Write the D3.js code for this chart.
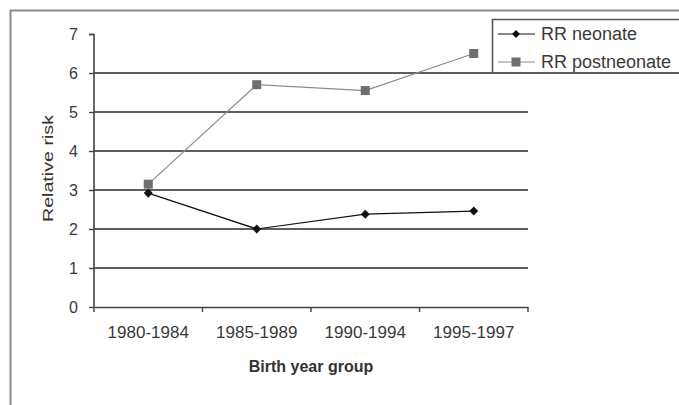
<!DOCTYPE html>
<html>
<head>
<meta charset="utf-8">
<script src="https://cdn.jsdelivr.net/npm/d3@7"></script>
<style>
  body { margin: 0; background: #fff; }
  text { font-family: "Liberation Sans", Arial, sans-serif; }
</style>
</head>
<body>
<div id="chart"></div>
<script>
// data
const categories = ["1980-1984", "1985-1989", "1990-1994", "1995-1997"];
const neonate = [2.92, 2.0, 2.38, 2.46];
const postneonate = [3.15, 5.7, 5.55, 6.5];
const yTicks = [0, 1, 2, 3, 4, 5, 6, 7];
const seriesNames = ["RR neonate", "RR postneonate"];

const width = 679, height = 405;
const margin = {top: 34, right: 151, bottom: 98, left: 94};
const plot_w = width - margin.left - margin.right,
      plot_h = height - margin.top - margin.bottom;

const svg = d3.select("#chart")
  .append("svg")
  .attr("width", width)
  .attr("height", height);

// outer frame
svg.append("path")
  .attr("d", `M10.5,${height} L10.5,10.5 L${width},10.5`)
  .attr("fill", "none")
  .attr("stroke", "#8a8a8a")
  .attr("stroke-width", 2);

const g = svg.append("g")
  .attr("transform", `translate(${margin.left},${margin.top})`);

const x = d3.scaleBand()
  .domain(categories)
  .range([0, plot_w]);

const y = d3.scaleLinear()
  .domain([0, 7])
  .range([plot_h, 0]);

// gridlines
g.selectAll(".grid")
  .data(yTicks.filter(d => d > 0 && d < 7))
  .enter().append("line")
  .attr("x1", 0).attr("x2", plot_w)
  .attr("y1", d => y(d)).attr("y2", d => y(d))
  .attr("stroke", "#5e5e5e")
  .attr("stroke-width", 1.8);

// y axis
const yAxis = g.append("g")
  .call(d3.axisLeft(y).tickValues(yTicks).tickFormat(d3.format("d")).tickSize(5).tickPadding(11));
// x axis
const xAxis = g.append("g")
  .attr("transform", `translate(0,${plot_h})`)
  .call(d3.axisBottom(x).tickSize(0).tickPadding(19));

[yAxis, xAxis].forEach(a => {
  a.select(".domain").attr("stroke", "#444").attr("stroke-width", 1.6);
  a.selectAll(".tick line").attr("stroke", "#444").attr("stroke-width", 1.4);
  a.selectAll("text").attr("fill", "#3a3a3a")
    .attr("font-family", "Liberation Sans, Arial, sans-serif");
});
yAxis.selectAll("text").attr("font-size", 16);
xAxis.selectAll("text").attr("font-size", 17);
yAxis.select(".domain").attr("d", `M-5,0.5H0V${plot_h}`);

// category boundary ticks
const bounds = categories.map(c => x(c)).concat([plot_w]);
g.selectAll(".xtick")
  .data(bounds)
  .enter().append("line")
  .attr("x1", d => d).attr("x2", d => d)
  .attr("y1", plot_h).attr("y2", plot_h + 5)
  .attr("stroke", "#444")
  .attr("stroke-width", 1.4);

// axis titles
g.append("text")
  .attr("x", plot_w / 2)
  .attr("y", plot_h + 65)
  .attr("text-anchor", "middle")
  .attr("font-size", 16)
  .attr("font-weight", "bold")
  .attr("fill", "#333")
  .text("Birth year group");

g.append("text")
  .attr("transform", `translate(-41,${y(3.55)}) rotate(-90)`)
  .attr("text-anchor", "middle")
  .attr("font-size", 15)
  .attr("textLength", 107)
  .attr("lengthAdjust", "spacingAndGlyphs")
  .attr("fill", "#333")
  .text("Relative risk");

const cx = d => x(d) + x.bandwidth() / 2;
const line = d3.line()
  .x((d, i) => cx(categories[i]))
  .y(d => y(d));

// postneonate
g.append("path")
  .datum(postneonate)
  .attr("fill", "none")
  .attr("stroke", "#8c8c8c")
  .attr("stroke-width", 1.2)
  .attr("d", line);
g.selectAll(".sq")
  .data(postneonate)
  .enter().append("rect")
  .attr("x", (d, i) => cx(categories[i]) - 4.5)
  .attr("y", d => y(d) - 4.5)
  .attr("width", 9).attr("height", 9)
  .attr("fill", "#6e6e6e");

// neonate
g.append("path")
  .datum(neonate)
  .attr("fill", "none")
  .attr("stroke", "#111")
  .attr("stroke-width", 1.2)
  .attr("d", line);
g.selectAll(".dm")
  .data(neonate)
  .enter().append("rect")
  .attr("x", -3.2).attr("y", -3.2)
  .attr("width", 6.4).attr("height", 6.4)
  .attr("transform", (d, i) => `translate(${cx(categories[i])},${y(d)}) rotate(45)`)
  .attr("fill", "#111");

// legend
const lg = svg.append("g").attr("transform", "translate(492,19)");
lg.append("path")
  .attr("d", `M0.5,54 L0.5,0.5 L${width},0.5`)
  .attr("fill", "none")
  .attr("stroke", "#555")
  .attr("stroke-width", 1.6);
svg.append("line")
  .attr("x1", margin.left + plot_w).attr("x2", width)
  .attr("y1", margin.top + y(6)).attr("y2", margin.top + y(6))
  .attr("stroke", "#5e5e5e")
  .attr("stroke-width", 1.8);

seriesNames.forEach((name, i) => {
  const ly = 15 + i * 28;
  lg.append("line")
    .attr("x1", 6).attr("x2", 43)
    .attr("y1", ly).attr("y2", ly)
    .attr("stroke", i === 0 ? "#111" : "#8c8c8c")
    .attr("stroke-width", 1.2);
  if (i === 0) {
    lg.append("rect")
      .attr("x", -2.8).attr("y", -2.8)
      .attr("width", 5.6).attr("height", 5.6)
      .attr("transform", `translate(24,${ly}) rotate(45)`)
      .attr("fill", "#111");
  } else {
    lg.append("rect")
      .attr("x", 19.5).attr("y", ly - 4.5)
      .attr("width", 9).attr("height", 9)
      .attr("fill", "#6e6e6e");
  }
  lg.append("text")
    .attr("x", 49)
    .attr("y", ly + 6)
    .attr("font-size", 18)
    .attr("fill", "#3a3a3a")
    .text(name);
});
</script>
</body>
</html>
